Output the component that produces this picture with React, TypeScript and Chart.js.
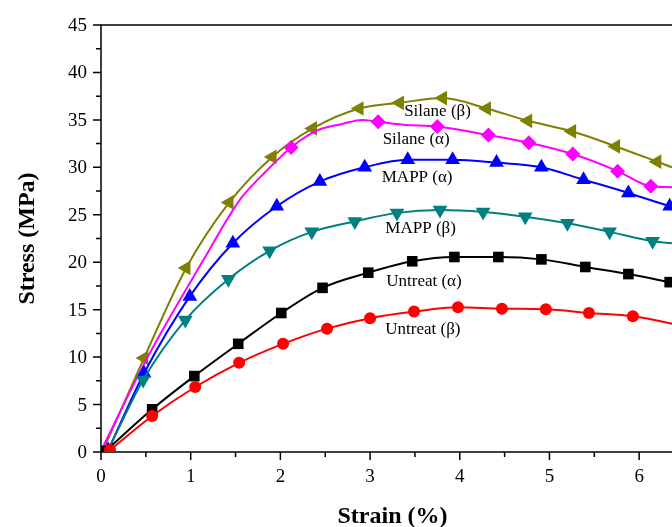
import React, { useEffect, useRef } from 'react';
import { Chart, registerables } from 'chart.js';

Chart.register(...registerables);

const FONT = '"Liberation Serif", "Times New Roman", serif';

// Axis ticks
const xMajorTicks = [0, 1, 2, 3, 4, 5, 6];
const xMinorTicks = [0.5, 1.5, 2.5, 3.5, 4.5, 5.5, 6.5];
const yMajorTicks = [0, 5, 10, 15, 20, 25, 30, 35, 40, 45];
const yMinorTicks = [2.5, 7.5, 12.5, 17.5, 22.5, 27.5, 32.5, 37.5, 42.5];
const xTitle = 'Strain (%)';
const yTitle = 'Stress (MPa)';

// Untreat (β) — red circles
const untreatBetaX = [0.10, 0.57, 1.05, 1.54, 2.03, 2.52, 3.00, 3.49, 3.98, 4.47, 4.96, 5.44, 5.93, 6.37, 6.5];
const untreatBetaY = [0.2, 3.8, 6.85, 9.4, 11.4, 13.0, 14.1, 14.8, 15.25, 15.1, 15.05, 14.65, 14.3, 13.5, 13.2];
const untreatBetaMarks = [1, 1, 1, 1, 1, 1, 1, 1, 1, 1, 1, 1, 1, 0, 0];

// Untreat (α) — black squares
const untreatAlphaX = [0.05, 0.57, 1.04, 1.53, 2.01, 2.47, 2.98, 3.47, 3.94, 4.43, 4.91, 5.40, 5.88, 6.34, 6.5];
const untreatAlphaY = [0.1, 4.5, 8.0, 11.4, 14.65, 17.3, 18.9, 20.1, 20.55, 20.55, 20.3, 19.5, 18.75, 17.9, 17.6];
const untreatAlphaMarks = [1, 1, 1, 1, 1, 1, 1, 1, 1, 1, 1, 1, 1, 1, 0];

// MAPP (β) — teal down triangles
const mappBetaX = [0.08, 0.47, 0.94, 1.42, 1.88, 2.35, 2.83, 3.30, 3.78, 4.26, 4.73, 5.20, 5.67, 6.15, 6.37, 6.5];
const mappBetaY = [0.2, 7.6, 13.9, 18.2, 21.2, 23.2, 24.3, 25.2, 25.5, 25.3, 24.8, 24.1, 23.2, 22.2, 22.0, 21.8];
const mappBetaMarks = [1, 1, 1, 1, 1, 1, 1, 1, 1, 1, 1, 1, 1, 1, 0, 0];

// MAPP (α) — blue up triangles
const mappAlphaX = [0.08, 0.48, 0.99, 1.47, 1.96, 2.44, 2.94, 3.42, 3.92, 4.41, 4.91, 5.38, 5.88, 6.34, 6.5];
const mappAlphaY = [0.2, 8.3, 16.4, 22.0, 25.9, 28.5, 30.0, 30.8, 30.8, 30.5, 30.0, 28.7, 27.3, 25.9, 25.5];
const mappAlphaMarks = [1, 1, 1, 1, 1, 1, 1, 1, 1, 1, 1, 1, 1, 1, 0];

// Silane (α) — magenta diamonds
const silaneAlphaX = [0.02, 0.52, 1.14, 1.55, 1.80, 2.12, 2.41, 2.70, 2.91, 3.09, 3.37, 3.75, 4.32, 4.77, 5.26, 5.76, 6.13, 6.37, 6.5];
const silaneAlphaY = [0.5, 10.0, 20.2, 26.6, 29.2, 32.1, 33.9, 34.6, 35.0, 34.8, 34.5, 34.3, 33.4, 32.6, 31.4, 29.6, 28.0, 27.9, 27.7];
const silaneAlphaMarks = [0, 0, 0, 0, 0, 1, 0, 0, 0, 1, 0, 1, 1, 1, 1, 1, 1, 0, 0];

// Silane (β) — olive left triangles
const silaneBetaX = [0.02, 0.48, 0.95, 1.43, 1.91, 2.36, 2.88, 3.33, 3.81, 4.30, 4.76, 5.25, 5.74, 6.20, 6.37, 6.5];
const silaneBetaY = [0.1, 9.9, 19.4, 26.3, 31.1, 34.1, 36.2, 36.8, 37.3, 36.2, 34.9, 33.8, 32.2, 30.6, 30.0, 29.6];
const silaneBetaMarks = [1, 1, 1, 1, 1, 1, 1, 1, 1, 1, 1, 1, 1, 1, 0, 0];

// In-plot labels (data coordinates, left-aligned)
const noteTexts = ['Silane (β)', 'Silane (α)', 'MAPP (α)', 'MAPP (β)', 'Untreat (α)', 'Untreat (β)'];
const noteX = [3.38, 3.14, 3.13, 3.17, 3.18, 3.17];
const noteY = [35.9, 32.9, 28.9, 23.6, 18.0, 12.9];

function makeSet(label: string, xs: number[], ys: number[], marks: number[], color: string, style: string, radius: number, rotation: number) {
  return {
    label,
    data: xs.map((x, i) => ({ x, y: ys[i] })),
    borderColor: color,
    backgroundColor: color,
    borderWidth: 2,
    pointStyle: style,
    rotation,
    pointRadius: marks.map((m) => (m ? radius : 0)),
    pointBorderWidth: 0,
    pointBackgroundColor: color,
    cubicInterpolationMode: 'monotone' as const,
    fill: false,
  };
}

const framePlugin = {
  id: 'frame',
  beforeDatasetsDraw(chart: any) {
    const { ctx, chartArea } = chart;
    const xs = chart.scales.x;
    const ys = chart.scales.y;
    ctx.save();
    ctx.strokeStyle = '#000';
    ctx.lineWidth = 1.5;
    ctx.beginPath();
    ctx.rect(chartArea.left, chartArea.top, chartArea.right - chartArea.left, chartArea.bottom - chartArea.top);
    ctx.stroke();
    ctx.beginPath();
    xMajorTicks.forEach((v) => {
      const p = xs.getPixelForValue(v);
      ctx.moveTo(p, chartArea.bottom);
      ctx.lineTo(p, chartArea.bottom + 8);
    });
    xMinorTicks.forEach((v) => {
      const p = xs.getPixelForValue(v);
      ctx.moveTo(p, chartArea.bottom);
      ctx.lineTo(p, chartArea.bottom + 5);
    });
    yMajorTicks.forEach((v) => {
      const p = ys.getPixelForValue(v);
      ctx.moveTo(chartArea.left, p);
      ctx.lineTo(chartArea.left - 8, p);
    });
    yMinorTicks.forEach((v) => {
      const p = ys.getPixelForValue(v);
      ctx.moveTo(chartArea.left, p);
      ctx.lineTo(chartArea.left - 5, p);
    });
    ctx.stroke();

    ctx.fillStyle = '#000';
    ctx.font = `19px ${FONT}`;
    ctx.textAlign = 'right';
    ctx.textBaseline = 'middle';
    yMajorTicks.forEach((v) => {
      ctx.fillText(String(v), chartArea.left - 14, ys.getPixelForValue(v) + 1);
    });
    ctx.textAlign = 'center';
    ctx.textBaseline = 'middle';
    xMajorTicks.forEach((v) => {
      ctx.fillText(String(v), xs.getPixelForValue(v), chartArea.bottom + 25);
    });

    ctx.font = `bold 24px ${FONT}`;
    ctx.textAlign = 'center';
    ctx.textBaseline = 'alphabetic';
    ctx.fillText(xTitle, (chartArea.left + chartArea.right) / 2, chartArea.bottom + 71);
    ctx.save();
    ctx.translate(chartArea.left - 67, (chartArea.top + chartArea.bottom) / 2);
    ctx.rotate(-Math.PI / 2);
    ctx.fillText(yTitle, 0, 0);
    ctx.restore();
    ctx.restore();
  },
  afterDatasetsDraw(chart: any) {
    const { ctx } = chart;
    const xs = chart.scales.x;
    const ys = chart.scales.y;
    ctx.save();
    ctx.fillStyle = '#000';
    ctx.font = `17px ${FONT}`;
    ctx.textAlign = 'left';
    ctx.textBaseline = 'middle';
    noteTexts.forEach((t, i) => {
      ctx.fillText(t, xs.getPixelForValue(noteX[i]), ys.getPixelForValue(noteY[i]));
    });
    ctx.restore();
  },
};

export default function App() {
  const ref = useRef<HTMLCanvasElement | null>(null);
  useEffect(() => {
    if (!ref.current) return;
    const chart = new Chart(ref.current, {
      type: 'line',
      data: {
        datasets: [
          makeSet('Untreat (β)', untreatBetaX, untreatBetaY, untreatBetaMarks, '#FF0000', 'circle', 6, 0),
          makeSet('Untreat (α)', untreatAlphaX, untreatAlphaY, untreatAlphaMarks, '#000000', 'rect', 7.5, 0),
          makeSet('MAPP (β)', mappBetaX, mappBetaY, mappBetaMarks, '#008080', 'triangle', 8.5, 180),
          makeSet('MAPP (α)', mappAlphaX, mappAlphaY, mappAlphaMarks, '#0000FF', 'triangle', 8.5, 0),
          makeSet('Silane (α)', silaneAlphaX, silaneAlphaY, silaneAlphaMarks, '#FF00FF', 'rectRot', 7.5, 0),
          makeSet('Silane (β)', silaneBetaX, silaneBetaY, silaneBetaMarks, '#808000', 'triangle', 8.5, -90),
        ] as any,
      },
      options: {
        animation: false,
        responsive: false,
        devicePixelRatio: 1,
        layout: { padding: { left: 101, top: 25, right: 16, bottom: 75 } },
        scales: {
          x: { type: 'linear', min: 0, max: 6.5, display: false },
          y: { type: 'linear', min: 0, max: 45, display: false },
        },
        plugins: { legend: { display: false }, tooltip: { enabled: false } },
      },
      plugins: [framePlugin],
    });
    return () => chart.destroy();
  }, []);
  return (
    <div style={{ position: 'fixed', left: 0, top: 0, width: 672, height: 527, overflow: 'hidden', background: '#fff' }}>
      <canvas ref={ref} width={700} height={527} style={{ display: 'block' }} />
    </div>
  );
}
